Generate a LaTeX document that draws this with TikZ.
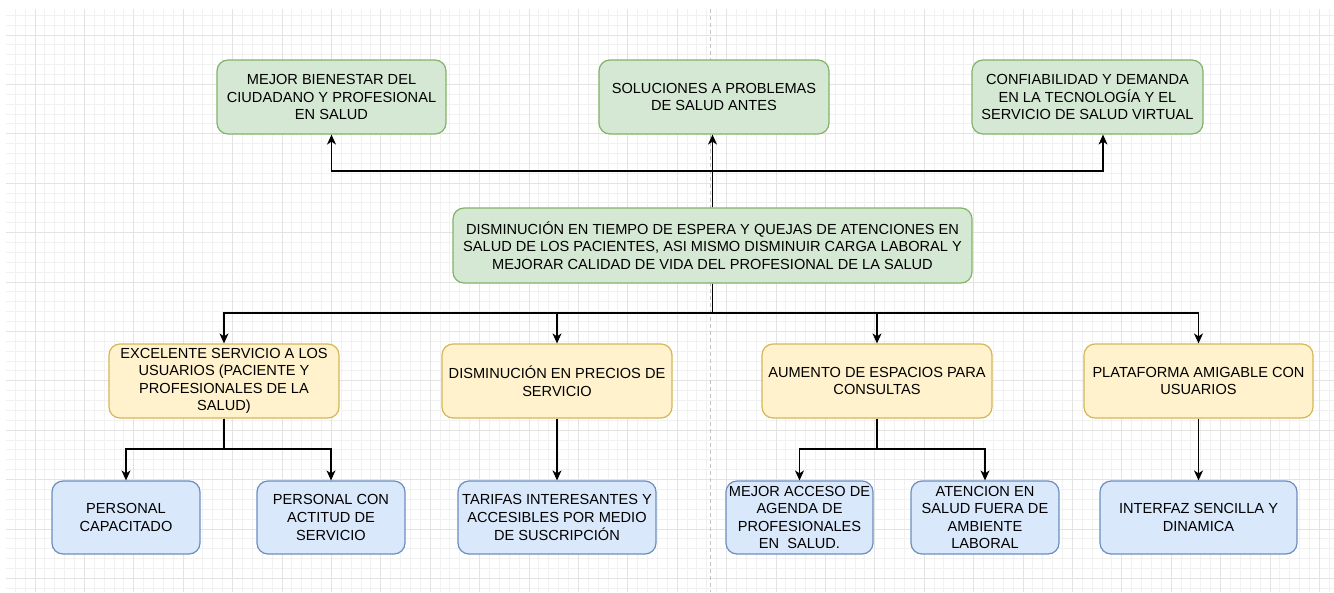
\documentclass[tikz,border=0pt]{standalone}
\usepackage{fontspec}
\setmainfont{Liberation Sans}
\usetikzlibrary{arrows.meta}
\definecolor{gfill}{HTML}{D5E8D4}
\definecolor{gline}{HTML}{82B366}
\definecolor{yfill}{HTML}{FFF2CC}
\definecolor{yline}{HTML}{D6B656}
\definecolor{bfill}{HTML}{DAE8FC}
\definecolor{bline}{HTML}{6C8EBF}
\definecolor{minorgrid}{HTML}{F1F1F1}
\definecolor{majorgrid}{HTML}{E3E3E3}
\definecolor{pagebreak}{HTML}{C4C4C4}
\tikzset{
  box/.style={rounded corners=11pt, draw, line width=1.2pt, align=center, inner sep=0pt,
    font=\fontsize{14.6}{17.6}\selectfont, text=black},
  gbox/.style={box, fill=gfill, draw=gline},
  ybox/.style={box, fill=yfill, draw=yline},
  bbox/.style={box, fill=bfill, draw=bline},
  arr/.style={draw=black, line width=1.2pt, -{Stealth[length=10pt,width=9pt,inset=3pt]}},
  mgl/.style={draw=minorgrid, line width=1pt},
  Mgl/.style={draw=majorgrid, line width=1pt}
}
\begin{document}
\begin{tikzpicture}[x=1pt,y=-1pt]
\useasboundingbox (0,0) rectangle (1334,592);
\fill[white] (0,0) rectangle (1334,592);
% grid
\begin{scope}
\clip (6,9) rectangle (1334,592);
\foreach \i in {0,...,135} {\draw[mgl] ({5.36+9.88*\i},9) -- ({5.36+9.88*\i},592);}
\foreach \j in {0,...,60} {\draw[mgl] (6,{5.36+9.88*\j}) -- (1334,{5.36+9.88*\j});}
\foreach \i in {0,...,27} {\draw[Mgl] ({-14.4+49.4*\i},9) -- ({-14.4+49.4*\i},592);}
\foreach \j in {0,...,12} {\draw[Mgl] (6,{-14.4+49.4*\j}) -- (1334,{-14.4+49.4*\j});}
\end{scope}
\draw[draw=pagebreak, line width=1pt, dash pattern=on 4pt off 3pt] (710,9) -- (710,592);

% top row
\node[gbox, minimum width=229pt, minimum height=74pt] (t1) at (331.5,97) {MEJOR BIENESTAR DEL\\CIUDADANO Y PROFESIONAL\\EN SALUD};
\node[gbox, minimum width=230pt, minimum height=74pt] (t2) at (714,97) {SOLUCIONES A PROBLEMAS\\DE SALUD ANTES};
\node[gbox, minimum width=231pt, minimum height=74pt] (t3) at (1087.5,97) {CONFIABILIDAD Y DEMANDA\\EN LA TECNOLOGÍA Y EL\\SERVICIO DE SALUD VIRTUAL};

% central
\node[gbox, minimum width=519pt, minimum height=75pt] (c) at (712.5,245.5) {DISMINUCIÓN EN TIEMPO DE ESPERA Y QUEJAS DE ATENCIONES EN\\SALUD DE LOS PACIENTES, ASI MISMO DISMINUIR CARGA LABORAL Y\\MEJORAR CALIDAD DE VIDA DEL PROFESIONAL DE LA SALUD};

% middle row
\node[ybox, minimum width=230pt, minimum height=74pt] (y1) at (224,381) {EXCELENTE SERVICIO A LOS\\USUARIOS (PACIENTE Y\\PROFESIONALES DE LA\\SALUD)};
\node[ybox, minimum width=230pt, minimum height=74pt] (y2) at (557,381) {DISMINUCIÓN EN PRECIOS DE\\SERVICIO};
\node[ybox, minimum width=230pt, minimum height=74pt] (y3) at (877,381) {AUMENTO DE ESPACIOS PARA\\CONSULTAS};
\node[ybox, minimum width=229pt, minimum height=74pt] (y4) at (1198.5,381) {PLATAFORMA AMIGABLE CON\\USUARIOS};

% bottom row
\node[bbox, minimum width=148pt, minimum height=73pt] (b1) at (126,517.5) {PERSONAL\\CAPACITADO};
\node[bbox, minimum width=148pt, minimum height=73pt] (b2) at (331,517.5) {PERSONAL CON\\ACTITUD DE\\SERVICIO};
\node[bbox, minimum width=198pt, minimum height=73pt] (b3) at (557,517.5) {TARIFAS INTERESANTES Y\\ACCESIBLES POR MEDIO\\DE SUSCRIPCIÓN};
\node[bbox, minimum width=147pt, minimum height=73pt] (b4) at (799.5,517.5) {MEJOR ACCESO DE\\AGENDA DE\\PROFESIONALES\\EN\ \ SALUD.};
\node[bbox, minimum width=148pt, minimum height=73pt] (b5) at (985,517.5) {ATENCION EN\\SALUD FUERA DE\\AMBIENTE\\LABORAL};
\node[bbox, minimum width=197pt, minimum height=73pt] (b6) at (1198.5,517.5) {INTERFAZ SENCILLA Y\\DINAMICA};

% connectors: central to top
\coordinate (cu) at (c.north |- 0,171);
\draw[arr] (c.north) -- (t2.south -| c.north);
\draw[arr] (c.north) -- (cu) -| (t1.south);
\draw[arr] (c.north) -- (cu) -| ([xshift=15.5pt]t3.south);

% central to middle
\coordinate (cd) at (c.south |- 0,313);
\draw[arr] (c.south) -- (cd) -| (y1.north);
\draw[arr] (c.south) -- (cd) -| (y2.north);
\draw[arr] (c.south) -- (cd) -| (y3.north);
\draw[arr] (c.south) -- (cd) -| (y4.north);

% middle to bottom
\coordinate (y1d) at (y1.south |- 0,449);
\draw[arr] (y1.south) -- (y1d) -| (b1.north);
\draw[arr] (y1.south) -- (y1d) -| (b2.north);
\draw[arr] (y2.south) -- (b3.north);
\coordinate (y3d) at (y3.south |- 0,449);
\draw[arr] (y3.south) -- (y3d) -| (b4.north);
\draw[arr] (y3.south) -- (y3d) -| (b5.north);
\draw[arr] (y4.south) -- (b6.north);
\end{tikzpicture}
\end{document}
